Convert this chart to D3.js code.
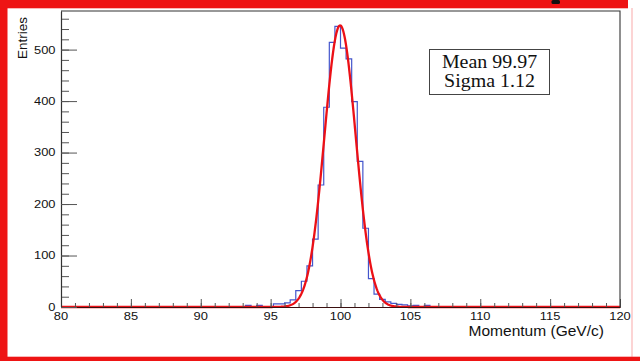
<!DOCTYPE html>
<html>
<head>
<meta charset="utf-8">
<script src="https://cdn.jsdelivr.net/npm/d3@7"></script>
<style>
  html, body { margin: 0; padding: 0; background: #ffffff; }
  svg { display: block; }
</style>
</head>
<body>
<svg id="chart" width="640" height="361"></svg>
<script>
// Histogram binning: 100 bins of 0.4 GeV/c between 80 and 120
const xRange = [80, 120];
const nBins = 100;

// Entries per bin
const counts = [
  0, 0, 0, 0, 0, 0, 0, 0, 0, 0,
  0, 0, 0, 0, 0, 0, 0, 0, 0, 0,
  0, 0, 0, 0, 0, 0, 0, 0, 0, 0,
  0, 0, 0, 3, 0, 3, 0, 0, 6, 6,
  8, 14, 32, 50, 80, 132, 237, 388, 514, 545,
  503, 482, 399, 283, 153, 55, 25, 15, 10, 7,
  5, 4, 2, 3, 1, 3, 0, 0, 0, 0,
  0, 0, 0, 0, 0, 0, 0, 0, 0, 0,
  0, 0, 0, 0, 0, 0, 0, 0, 0, 0,
  0, 0, 0, 0, 0, 0, 0, 0, 0, 0
];

// Gaussian fit parameters
const fitMean = 99.97;
const fitSigma = 1.12;
const fitConstant = 547;

// Axis ticks and labels
const xMajorTicks = [80, 85, 90, 95, 100, 105, 110, 115, 120];
const xMinorTicks = d3.range(80, 121, 1);
const yMajorTicks = [0, 100, 200, 300, 400, 500];
const yMinorTicks = d3.range(0, 561, 20);
const yMax = 575;
const xTitle = "Momentum (GeV/c)";
const yTitle = "Entries";
const statLines = ["Mean " + fitMean.toFixed(2), "Sigma " + fitSigma.toFixed(2)];

const svg = d3.select("#chart");
const frame = { left: 61, right: 620, top: 11, bottom: 307 };

const x = d3.scaleLinear().domain(xRange).range([frame.left, frame.right]);
const y = d3.scaleLinear().domain([0, yMax]).range([frame.bottom, frame.top]);

// Background
svg.append("rect").attr("width", 640).attr("height", 361).attr("fill", "#ffffff");

// Histogram outline (steps)
const binWidth = (xRange[1] - xRange[0]) / nBins;
const stepPoints = counts.map((c, k) => [xRange[0] + k * binWidth, c]);
stepPoints.push([xRange[1], counts[nBins - 1]]);
svg.append("path")
  .datum(stepPoints)
  .attr("fill", "none")
  .attr("stroke", "#4456cc")
  .attr("stroke-width", 1.2)
  .attr("d", d3.line().x(d => x(d[0])).y(d => y(d[1])).curve(d3.curveStepAfter));

// Gaussian fit curve
const gauss = v => fitConstant * Math.exp(-0.5 * Math.pow((v - fitMean) / fitSigma, 2));
const fitPoints = d3.range(xRange[0], xRange[1] + 0.001, 0.04).map(v => [v, gauss(v)]);
svg.append("path")
  .datum(fitPoints)
  .attr("fill", "none")
  .attr("stroke", "#ec1016")
  .attr("stroke-width", 2.3)
  .attr("stroke-linejoin", "round")
  .attr("d", d3.line().x(d => x(d[0])).y(d => y(d[1])));

// Axes (ticks pointing inward)
const tickColor = "#555";
const gx = svg.append("g").attr("transform", `translate(0,${frame.bottom})`);
gx.call(d3.axisBottom(x).tickValues(xMinorTicks).tickSize(-4).tickFormat("").tickSizeOuter(0));
gx.append("g").call(d3.axisBottom(x).tickValues(xMajorTicks).tickSize(-8).tickFormat("").tickSizeOuter(0));
gx.selectAll(".tick line").attr("stroke", tickColor);
gx.selectAll(".domain").attr("stroke", "#3a1010").attr("stroke-width", 1.2);

const gy = svg.append("g").attr("transform", `translate(${frame.left},0)`);
gy.call(d3.axisLeft(y).tickValues(yMinorTicks).tickSize(-8).tickFormat("").tickSizeOuter(0));
gy.append("g").call(d3.axisLeft(y).tickValues(yMajorTicks).tickSize(-16).tickFormat("").tickSizeOuter(0));
gy.selectAll(".tick line").attr("stroke", tickColor);
gy.selectAll(".domain").attr("stroke", "#333").attr("stroke-width", 1.1);

// Frame top and right edges
svg.append("path")
  .attr("d", `M${frame.left},${frame.top}H${frame.right}V${frame.bottom}`)
  .attr("fill", "none").attr("stroke", "#333").attr("stroke-width", 1.1);

// Tick labels
const labelFont = "'Liberation Sans', Arial, Helvetica, sans-serif";
svg.append("g").selectAll("text").data(xMajorTicks).join("text")
  .attr("transform", d => `translate(${x(d)},320) scale(1.17,1)`)
  .attr("text-anchor", "middle")
  .attr("font-family", labelFont).attr("font-size", 11).attr("fill", "#111")
  .text(d => d);

svg.append("g").selectAll("text").data(yMajorTicks).join("text")
  .attr("transform", d => `translate(55.5,${y(d) + 3.9}) scale(1.17,1)`)
  .attr("text-anchor", "end")
  .attr("font-family", labelFont).attr("font-size", 11).attr("fill", "#111")
  .text(d => d);

// Axis titles
svg.append("text")
  .attr("transform", "translate(604,336) scale(1.11,1)")
  .attr("text-anchor", "end")
  .attr("font-family", labelFont).attr("font-size", 14).attr("fill", "#111")
  .text(xTitle);

svg.append("text")
  .attr("transform", "translate(26.5,17) rotate(-90)")
  .attr("text-anchor", "end")
  .attr("font-family", labelFont).attr("font-size", 13.5).attr("fill", "#111")
  .text(yTitle);

// Fit statistics box
const box = { x: 429.5, y: 49.5, w: 120, h: 45 };
svg.append("rect")
  .attr("x", box.x).attr("y", box.y).attr("width", box.w).attr("height", box.h)
  .attr("fill", "#ffffff").attr("stroke", "#444").attr("stroke-width", 1);
svg.append("g").selectAll("text").data(statLines).join("text")
  .attr("transform", (d, i) => `translate(${box.x + box.w / 2},${67.8 + i * 19.6}) scale(1.05,1)`)
  .attr("text-anchor", "middle")
  .attr("font-family", "'Liberation Serif', 'Times New Roman', serif")
  .attr("font-size", 19).attr("fill", "#111")
  .text(d => d);

// Red page border
const borderRed = "#ee1414";
svg.append("rect").attr("x", 0).attr("y", 0).attr("width", 7.5).attr("height", 361).attr("fill", borderRed);
svg.append("rect").attr("x", 0).attr("y", 0).attr("width", 628).attr("height", 8.3).attr("fill", borderRed);
svg.append("rect").attr("x", 0).attr("y", 356.7).attr("width", 640).attr("height", 4.3).attr("fill", borderRed);
svg.append("line").attr("x1", 632).attr("x2", 632).attr("y1", 8).attr("y2", 357)
  .attr("stroke", "rgba(240,90,90,0.35)").attr("stroke-width", 1.5);
svg.append("rect").attr("x", 551.5).attr("y", 0).attr("width", 8.5).attr("height", 4).attr("rx", 1.5)
  .attr("fill", "#111");
</script>
</body>
</html>
